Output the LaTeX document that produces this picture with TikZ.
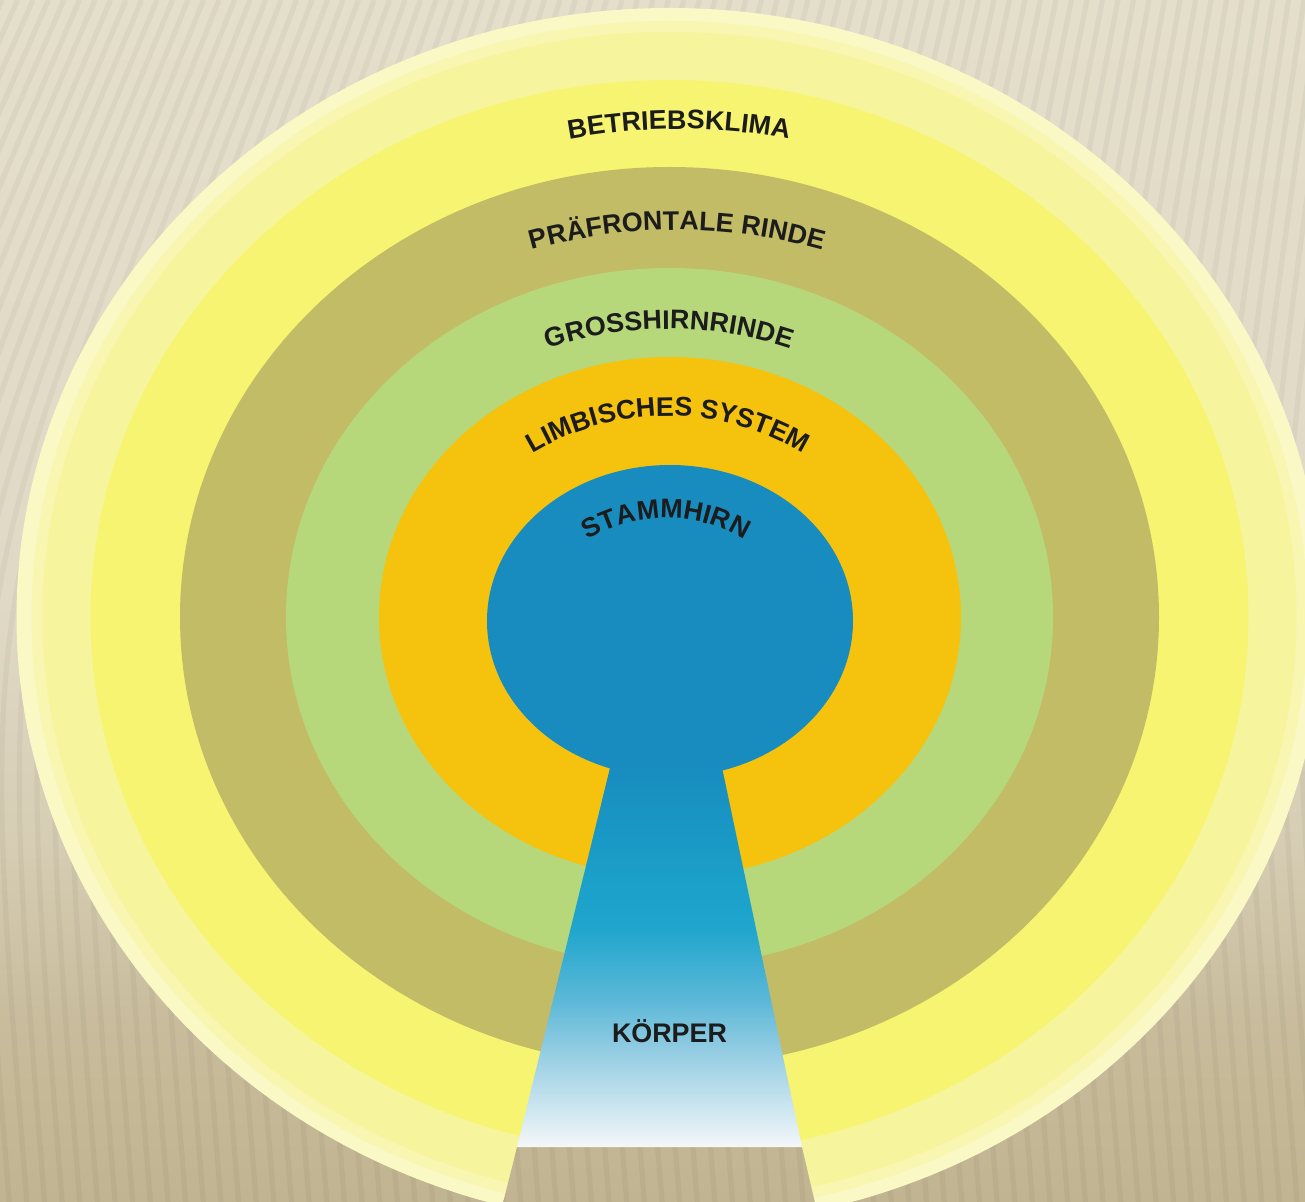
\documentclass[tikz,border=0pt]{standalone}
\usepackage{fontspec}
\usetikzlibrary{decorations.text}
\newfontfamily\lblfont{Liberation Sans}
\newcommand{\lblstyle}{\lblfont\bfseries\fontsize{15.3pt}{18pt}\selectfont}

\definecolor{bgTop}{HTML}{E4DECB}
\definecolor{bgA}{HTML}{E0D9C5}
\definecolor{bgB}{HTML}{D6CDB4}
\definecolor{bgC}{HTML}{C8BC9C}
\definecolor{bgD}{HTML}{C1B491}
\definecolor{paleA}{HTML}{FAF8C5}
\definecolor{paleB}{HTML}{F8F6B0}
\definecolor{paleC}{HTML}{F6F59E}
\definecolor{ringYellow}{HTML}{F6F470}
\definecolor{ringOlive}{HTML}{C2BC66}
\definecolor{ringGreen}{HTML}{B6D87B}
\definecolor{ringOrange}{HTML}{F5C20E}
\definecolor{ringBlue}{HTML}{188CBF}
\definecolor{stA}{HTML}{188CBF}
\definecolor{stB}{HTML}{1AA0C9}
\definecolor{stC}{HTML}{20A6CD}
\definecolor{stD}{HTML}{5CB8D8}
\definecolor{stE}{HTML}{88C8E0}
\definecolor{stF}{HTML}{C4E2EE}
\definecolor{stG}{HTML}{F4F7F9}
\definecolor{lbltext}{HTML}{1C1C1C}

\pgfdeclareverticalshading{bgshade}{100bp}{color(0bp)=(bgD); color(25bp)=(bgD); color(32.5bp)=(bgC); color(40bp)=(bgB); color(50bp)=(bgA); color(75bp)=(bgTop); color(100bp)=(bgTop)}
\pgfdeclareverticalshading{stemshade}{100bp}{color(0bp)=(stG); color(25bp)=(stG); color(31.1bp)=(stF); color(39bp)=(stE); color(44.2bp)=(stD); color(53.5bp)=(stC); color(60bp)=(stB); color(75bp)=(stA); color(100bp)=(stA)}

\newcommand{\bgpaint}{%
  \shade[shading=bgshade] (0,0) rectangle (1305,-1202);
  \foreach \k in {0,...,98}{%
    \pgfmathsetmacro\xa{\k*15.5-60}%
    \pgfmathsetmacro\sa{-0.45+0.3*\xa/1305}%
    \pgfmathsetmacro\xb{\xa+601*\sa}%
    \pgfmathsetmacro\xc{\xa+601*(\sa+0.08)}%
    \draw[stripe] (\xa,0) .. controls (\xb,-601) .. (\xc,-1202);
  }%
}

\begin{document}
\begin{tikzpicture}[x=0.02cm,y=0.02cm,
  stripe/.style={draw=black,draw opacity=0.035,line width=3pt},
  arclabel/.style={decorate,decoration={text along path,text align=center,
     text color=lbltext,text={|\lblstyle|#1}}},
  flatlabel/.style={font=\lblstyle,text=lbltext,inner sep=0pt}]
\useasboundingbox (0,0) rectangle (1305,-1202);
\clip (0,0) rectangle (1305,-1202);
\bgpaint

% concentric rings
\fill[paleA] (669.5,-617) ellipse [x radius=653,y radius=609];
\fill[paleB] (669.5,-617) ellipse [x radius=638,y radius=596];
\fill[paleC] (669.5,-617) ellipse [x radius=627,y radius=585];
\fill[ringYellow] (669.5,-617) ellipse [x radius=579,y radius=537];
\fill[ringOlive] (669.5,-617) ellipse [x radius=489.5,y radius=450];
\fill[ringGreen] (669.5,-617) ellipse [x radius=383.5,y radius=349];
\fill[ringOrange] (670,-617) ellipse [x radius=291,y radius=260];
\fill[ringBlue] (670,-621) ellipse [x radius=183,y radius=156];

% keyhole cut below the stem
\begin{scope}
  \clip (517,-1147) -- (802,-1147) -- (815,-1203) -- (503,-1203) -- cycle;
  \bgpaint
\end{scope}

% stem
\shade[shading=stemshade] (610.7,-765) -- (721.5,-765) -- (802,-1147) -- (517,-1147) -- cycle;

% labels on arcs
\path[arclabel={BETRIEBSKLIMA}] (679,-729) ++(120:600) arc[start angle=120,end angle=60,radius=600];
\path[arclabel={PRÄFRONTALE RINDE}] (677,-770) ++(125:540) arc[start angle=125,end angle=55,radius=540];
\path[arclabel={GROSSHIRNRINDE}] (669,-709) ++(135:380) arc[start angle=135,end angle=45,radius=380];
\path[arclabel={LIMBISCHES SYSTEM}] (668,-678) ++(150:262) arc[start angle=150,end angle=30,radius=262];
\path[arclabel={STAMMHIRN}] (666,-668) ++(160:150) arc[start angle=160,end angle=20,radius=150];

\node[flatlabel,anchor=base] (koerper) at (669.5,-1042) {KÖRPER};
\end{tikzpicture}
\end{document}
